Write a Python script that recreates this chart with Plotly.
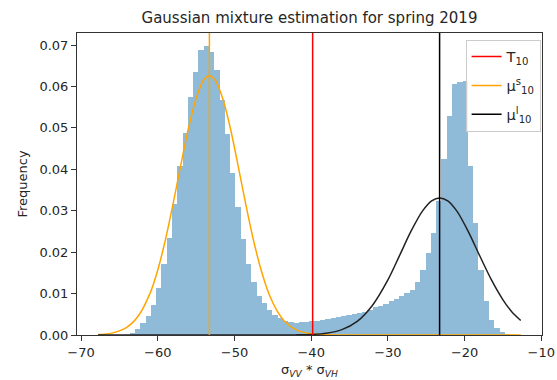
import numpy as np
import plotly.graph_objects as go

# ---- data ----
BIN_START = -67.78
BIN_END = -12.69
N_BINS = 80
DENSITY = [
    0.00003, 0.00003, 0.00005, 0.00008, 0.0001, 0.0001, 0.0004, 0.0014, 0.0030, 0.0046,
    0.0073, 0.0113, 0.0171, 0.0234, 0.0316, 0.0407, 0.0488, 0.0575, 0.0635, 0.0687,
    0.0697, 0.0683, 0.0639, 0.0568, 0.0486, 0.0390, 0.0308, 0.0232, 0.0171, 0.0128,
    0.0095, 0.0077, 0.0061, 0.0049, 0.0040, 0.0034, 0.0031, 0.0030, 0.0031, 0.0032,
    0.0034, 0.0035, 0.0036, 0.0038, 0.0041, 0.0043, 0.0047, 0.0048, 0.0051, 0.0053,
    0.0056, 0.0061, 0.0068, 0.0071, 0.0076, 0.0081, 0.0087, 0.0093, 0.0101, 0.0109,
    0.0129, 0.0158, 0.0197, 0.0246, 0.0323, 0.0425, 0.0528, 0.0605, 0.0610, 0.0612,
    0.0407, 0.0270, 0.0158, 0.0081, 0.0037, 0.0017, 0.0007, 0.0003, 0.0001, 0.00005,
]

ORANGE_X = [-67.78, -66, -64, -62.5, -61, -60, -59, -58, -57, -56, -55, -54, -53.27,
            -52.5, -51.5, -50.5, -49.5, -48.5, -47.5, -46.5, -45.5, -44.5, -43.5, -42,
            -40, -38, -35, -30, -20, -12.68]
ORANGE_Y = [0.0001, 0.00045, 0.0019, 0.0047, 0.0101, 0.0157, 0.0230, 0.0317, 0.0410,
            0.0499, 0.0571, 0.0616, 0.0626, 0.0615, 0.0569, 0.0496, 0.0406, 0.0313,
            0.0227, 0.0155, 0.0099, 0.0060, 0.0034, 0.0013, 0.0003, 0.00005, 0.0, 0.0,
            0.0, 0.0]

BLACK_X = [-67.78, -50, -45, -42, -40, -38, -36, -34, -32, -30, -28.5, -27, -25.5,
           -24.3, -23.26, -22.2, -21, -19.5, -18, -16.5, -15, -13.8, -12.68]
BLACK_Y = [0.0, 0.0, 0.000003, 0.00003, 0.00012, 0.00043, 0.0013, 0.0033, 0.0072,
           0.0133, 0.0191, 0.0250, 0.0299, 0.0324, 0.0331, 0.0324, 0.0299, 0.0249,
           0.0190, 0.0133, 0.0085, 0.0055, 0.0035]

VLINE_NAMES = ["T<sub>10</sub>", "μ<sup>s</sup><sub>10</sub>", "μ<sup>l</sup><sub>10</sub>"]
VLINE_VALUES = [-39.81, -53.27, -23.26]
VLINE_COLORS = ["#ff0000", "#ffa500", "#000000"]

X_TICKS = [-70, -60, -50, -40, -30, -20, -10]
Y_TICKS = [0.00, 0.01, 0.02, 0.03, 0.04, 0.05, 0.06, 0.07]

X_RANGE = [-70.53, -9.91]
Y_RANGE = [0.0, 0.0729]

edges = np.linspace(BIN_START, BIN_END, N_BINS + 1)
centers = (edges[:-1] + edges[1:]) / 2
widths = np.diff(edges)

fig = go.Figure()
fig.add_trace(go.Bar(
    x=centers, y=DENSITY, width=widths,
    marker=dict(color="rgba(31,119,180,0.5)", line=dict(width=0)),
    showlegend=False, hoverinfo="skip",
))
fig.add_trace(go.Scatter(
    x=ORANGE_X, y=ORANGE_Y, mode="lines",
    line=dict(color="#ffa500", width=1.5, shape="spline", smoothing=0.8),
    showlegend=False,
))
fig.add_trace(go.Scatter(
    x=BLACK_X, y=BLACK_Y, mode="lines",
    line=dict(color="#222222", width=1.5, shape="spline", smoothing=0.8),
    showlegend=False,
))
for i, (name, v, c) in enumerate(zip(VLINE_NAMES, VLINE_VALUES, VLINE_COLORS)):
    fig.add_trace(go.Scatter(
        x=[v, v], y=Y_RANGE, mode="lines", name=name,
        line=dict(color=c, width=1.5), legendgroup=f"g{i}",
    ))

font_family = "DejaVu Sans"
fig.update_layout(
    width=557, height=380,
    margin=dict(l=76.5, r=15.3, t=33.3, b=44.7, autoexpand=False),
    paper_bgcolor="white", plot_bgcolor="white",
    font=dict(family=font_family, size=13, color="#262626"),
    bargap=0,
    title=dict(
        text="Gaussian mixture estimation for spring 2019",
        x=0.5, xref="paper", xanchor="center",
        y=1 - 18 / 380, yref="container", yanchor="middle",
        font=dict(size=15, family=font_family, color="#262626"),
    ),
    xaxis=dict(
        range=X_RANGE, tickvals=X_TICKS, showgrid=False, zeroline=False,
        showline=True, linecolor="#333333", linewidth=1, mirror=True,
        ticks="outside", ticklen=5, tickcolor="#333333", automargin=False,
        title=dict(text="σ<sub><i>VV</i></sub> * σ<sub><i>VH</i></sub>",
                   standoff=6, font=dict(size=13)),
    ),
    yaxis=dict(
        range=Y_RANGE, tickvals=Y_TICKS, tickformat=".2f", showgrid=False,
        zeroline=False, showline=True, linecolor="#333333", linewidth=1, mirror=True,
        ticks="outside", ticklen=5, tickcolor="#333333", automargin=False,
        title=dict(text="Frequency", standoff=8, font=dict(size=13)),
    ),
    legend=dict(
        x=0.997, y=0.978, xanchor="right", yanchor="top",
        bgcolor="rgba(255,255,255,0.8)", bordercolor="#cccccc", borderwidth=1,
        font=dict(size=14.5, family=font_family), tracegroupgap=7,
        itemwidth=30,
    ),
)

fig.write_html("out.html")
